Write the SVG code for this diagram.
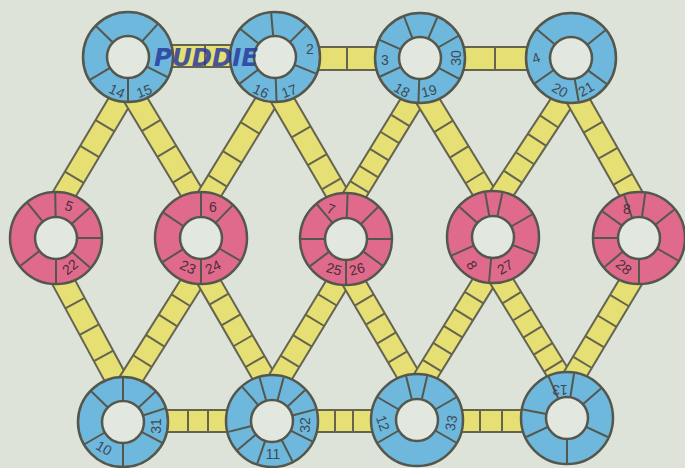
<svg xmlns="http://www.w3.org/2000/svg" xmlns:xlink="http://www.w3.org/1999/xlink" width="685" height="468" viewBox="0 0 685 468">
<style>
.bg{fill:#dde3d9}
.strip{fill:#e6df74;stroke:#646450;stroke-width:2}
.bar{stroke:#646450;stroke-width:2;fill:none}
.blue{fill:#6db8dc;stroke:#55574c;stroke-width:2.5}
.pink{fill:#e06a8c;stroke:#55574c;stroke-width:2.5}
.hole{fill:#e2e7df;stroke:#55574c;stroke-width:2.5}
.sp{stroke:#55574c;stroke-width:2}
.lb{font-family:"Liberation Sans",Arial,sans-serif;font-size:14px;fill:#3f4a55;text-anchor:middle;dominant-baseline:central}
.lbp{fill:#4a3038}
.ink{font-family:"DejaVu Sans",sans-serif;font-style:italic;font-weight:bold;font-size:24px;fill:#2c3c9c;opacity:0.85}
</style>
<defs>
<line id="s" class="sp" x1="21" y1="0" x2="45" y2="0"/>
</defs>
<rect class="bg" x="0" y="0" width="685" height="468"/>

<g id="connectors">
<!-- horizontal top -->
<g><rect class="strip" x="128" y="45" width="147" height="22"/><path class="bar" d="M205 45V67"/></g>
<g><rect class="strip" x="275" y="47" width="145" height="23"/><path class="bar" d="M347 47V70"/></g>
<g><rect class="strip" x="420" y="47" width="151" height="23"/><path class="bar" d="M495 47V70"/></g>
<!-- horizontal bottom -->
<g><rect class="strip" x="123" y="410" width="149" height="22"/><path class="bar" d="M188 410V432M208 410V432"/></g>
<g><rect class="strip" x="272" y="410" width="145" height="22"/><path class="bar" d="M335 410V432M353 410V432"/></g>
<g><rect class="strip" x="417" y="410" width="150" height="22"/><path class="bar" d="M480 410V432M502 410V432"/></g>
<!-- diagonals top to middle -->
<g transform="translate(128 87) rotate(120.76)"><rect class="strip" x="0" y="-11" width="141" height="22"/><path class="bar" d="M45 -11V11M75 -11V11M105 -11V11"/></g>
<g transform="translate(128 87) rotate(58.9)"><rect class="strip" x="0" y="-11" width="141" height="22"/><path class="bar" d="M45 -11V11M75 -11V11M105 -11V11"/></g>
<g transform="translate(275 87) rotate(121.45)"><rect class="strip" x="0" y="-11" width="142" height="22"/><path class="bar" d="M48 -11V11M82 -11V11M110 -11V11"/></g>
<g transform="translate(275 87) rotate(59.8)"><rect class="strip" x="0" y="-11" width="141" height="22"/><path class="bar" d="M52 -11V11M84 -11V11M112 -11V11"/></g>
<g transform="translate(420 88) rotate(121.45)"><rect class="strip" x="0" y="-11" width="142" height="22"/><path class="bar" d="M38 -11V11M58 -11V11M78 -11V11M98 -11V11M116 -11V11"/></g>
<g transform="translate(420 88) rotate(58.47)"><rect class="strip" x="0" y="-11" width="140" height="22"/><path class="bar" d="M45 -11V11M75 -11V11M105 -11V11"/></g>
<g transform="translate(571 88) rotate(123.24)"><rect class="strip" x="0" y="-11" width="142" height="22"/><path class="bar" d="M40 -11V11M62 -11V11M84 -11V11M106 -11V11"/></g>
<g transform="translate(571 88) rotate(60.46)"><rect class="strip" x="0" y="-11" width="138" height="22"/><path class="bar" d="M45 -11V11M75 -11V11M105 -11V11"/></g>
<!-- diagonals middle to bottom -->
<g transform="translate(56 268) rotate(61.6)"><rect class="strip" x="0" y="-11" width="141" height="22"/><path class="bar" d="M40 -11V11M70 -11V11M100 -11V11"/></g>
<g transform="translate(201 268) rotate(122.17)"><rect class="strip" x="0" y="-11" width="146" height="22"/><path class="bar" d="M38 -11V11M62 -11V11M86 -11V11M110 -11V11"/></g>
<g transform="translate(201 268) rotate(60)"><rect class="strip" x="0" y="-11" width="142" height="22"/><path class="bar" d="M36 -11V11M60 -11V11M84 -11V11M108 -11V11"/></g>
<g transform="translate(346 269) rotate(121.24)"><rect class="strip" x="0" y="-11" width="143" height="22"/><path class="bar" d="M36 -11V11M60 -11V11M84 -11V11M108 -11V11"/></g>
<g transform="translate(346 269) rotate(59.6)"><rect class="strip" x="0" y="-11" width="140" height="22"/><path class="bar" d="M36 -11V11M58 -11V11M80 -11V11M102 -11V11"/></g>
<g transform="translate(493 267) rotate(121.7)"><rect class="strip" x="0" y="-11" width="145" height="22"/><path class="bar" d="M36 -11V11M56 -11V11M76 -11V11M96 -11V11M116 -11V11"/></g>
<g transform="translate(493 267) rotate(58.55)"><rect class="strip" x="0" y="-11" width="142" height="22"/><path class="bar" d="M36 -11V11M56 -11V11M76 -11V11M96 -11V11M116 -11V11"/></g>
<g transform="translate(639 268) rotate(120.96)"><rect class="strip" x="0" y="-11" width="140" height="22"/><path class="bar" d="M38 -11V11M62 -11V11M86 -11V11M110 -11V11"/></g>
</g>

<g id="n1" transform="translate(128 57)">
<circle class="blue" r="45"/><circle class="hole" r="21"/>
<use xlink:href="#s" transform="rotate(-136)"/><use xlink:href="#s" transform="rotate(-48)"/><use xlink:href="#s" transform="rotate(27)"/><use xlink:href="#s" transform="rotate(90)"/><use xlink:href="#s" transform="rotate(149)"/>
<text class="lb" transform="translate(-11 34) rotate(25)">14</text><text class="lb" transform="translate(16 34) rotate(-20)">15</text>
</g>
<g id="n2" transform="translate(275 57)">
<circle class="blue" r="45"/><circle class="hole" r="21"/>
<use xlink:href="#s" transform="rotate(-141)"/><use xlink:href="#s" transform="rotate(-95)"/><use xlink:href="#s" transform="rotate(-45)"/><use xlink:href="#s" transform="rotate(22)"/><use xlink:href="#s" transform="rotate(88)"/><use xlink:href="#s" transform="rotate(143)"/>
<text class="lb" transform="translate(-14 34) rotate(25)">16</text><text class="lb" transform="translate(14 34) rotate(-20)">17</text><text class="lb" transform="translate(35 -8)">2</text>
</g>
<g id="n3" transform="translate(420 58)">
<circle class="blue" r="45"/><circle class="hole" r="21"/>
<use xlink:href="#s" transform="rotate(-156)"/><use xlink:href="#s" transform="rotate(-111)"/><use xlink:href="#s" transform="rotate(-67)"/><use xlink:href="#s" transform="rotate(-30)"/><use xlink:href="#s" transform="rotate(28)"/><use xlink:href="#s" transform="rotate(92)"/><use xlink:href="#s" transform="rotate(155)"/>
<text class="lb" transform="translate(-35 2)">3</text><text class="lb" transform="translate(36 0) rotate(-90)">30</text><text class="lb" transform="translate(-18 32) rotate(30)">18</text><text class="lb" transform="translate(9 33) rotate(-15)">19</text>
</g>
<g id="n4" transform="translate(571 58)">
<circle class="blue" r="45"/><circle class="hole" r="21"/>
<use xlink:href="#s" transform="rotate(-140)"/><use xlink:href="#s" transform="rotate(-39)"/><use xlink:href="#s" transform="rotate(36)"/><use xlink:href="#s" transform="rotate(80)"/><use xlink:href="#s" transform="rotate(145)"/>
<text class="lb" transform="translate(-35 0) rotate(-20)">4</text><text class="lb" transform="translate(-11 32) rotate(30)">20</text><text class="lb" transform="translate(15 31) rotate(-30)">21</text>
</g>

<g id="n5" transform="translate(56 238)">
<circle class="pink" r="46"/><circle class="hole" r="21"/>
<use xlink:href="#s" transform="rotate(-129)"/><use xlink:href="#s" transform="rotate(-91)"/><use xlink:href="#s" transform="rotate(-42)"/><use xlink:href="#s" transform="rotate(0)"/><use xlink:href="#s" transform="rotate(41)"/><use xlink:href="#s" transform="rotate(90)"/><use xlink:href="#s" transform="rotate(142)"/>
<text class="lb lbp" transform="translate(13 -32) rotate(20)">5</text><text class="lb lbp" transform="translate(14 29) rotate(-40)">22</text>
</g>
<g id="n6" transform="translate(201 238)">
<circle class="pink" r="46"/><circle class="hole" r="21"/>
<use xlink:href="#s" transform="rotate(-146)"/><use xlink:href="#s" transform="rotate(-90)"/><use xlink:href="#s" transform="rotate(-46)"/><use xlink:href="#s" transform="rotate(30)"/><use xlink:href="#s" transform="rotate(90)"/><use xlink:href="#s" transform="rotate(148)"/>
<text class="lb lbp" transform="translate(12 -31)">6</text><text class="lb lbp" transform="translate(-13 29) rotate(25)">23</text><text class="lb lbp" transform="translate(12 29) rotate(-25)">24</text>
</g>
<g id="n7" transform="translate(346 239)">
<circle class="pink" r="46"/><circle class="hole" r="21"/>
<use xlink:href="#s" transform="rotate(-130)"/><use xlink:href="#s" transform="rotate(-88)"/><use xlink:href="#s" transform="rotate(-45)"/><use xlink:href="#s" transform="rotate(0)"/><use xlink:href="#s" transform="rotate(36)"/><use xlink:href="#s" transform="rotate(90)"/><use xlink:href="#s" transform="rotate(143)"/><use xlink:href="#s" transform="rotate(180)"/>
<text class="lb lbp" transform="translate(-15 -30) rotate(20)">7</text><text class="lb lbp" transform="translate(-12 30) rotate(15)">25</text><text class="lb lbp" transform="translate(11 30) rotate(-15)">26</text>
</g>
<g id="n8" transform="translate(493 237)">
<circle class="pink" r="46"/><circle class="hole" r="21"/>
<use xlink:href="#s" transform="rotate(-138)"/><use xlink:href="#s" transform="rotate(-100)"/><use xlink:href="#s" transform="rotate(-78)"/><use xlink:href="#s" transform="rotate(-30)"/><use xlink:href="#s" transform="rotate(22)"/><use xlink:href="#s" transform="rotate(95)"/><use xlink:href="#s" transform="rotate(156)"/>
<text class="lb lbp" transform="translate(-21 28) rotate(60)">8</text><text class="lb lbp" transform="translate(12 30) rotate(-30)">27</text>
</g>
<g id="n9" transform="translate(639 238)">
<circle class="pink" r="46"/><circle class="hole" r="21"/>
<use xlink:href="#s" transform="rotate(-144)"/><use xlink:href="#s" transform="rotate(-109)"/><use xlink:href="#s" transform="rotate(-82)"/><use xlink:href="#s" transform="rotate(-39)"/><use xlink:href="#s" transform="rotate(30)"/><use xlink:href="#s" transform="rotate(90)"/><use xlink:href="#s" transform="rotate(140)"/><use xlink:href="#s" transform="rotate(180)"/>
<text class="lb lbp" transform="translate(-12 -29)">8</text><text class="lb lbp" transform="translate(-15 29) rotate(40)">28</text>
</g>

<g id="n10" transform="translate(123 422)">
<circle class="blue" r="45"/><circle class="hole" r="21"/>
<use xlink:href="#s" transform="rotate(-136)"/><use xlink:href="#s" transform="rotate(-90)"/><use xlink:href="#s" transform="rotate(-43)"/><use xlink:href="#s" transform="rotate(-18)"/><use xlink:href="#s" transform="rotate(28)"/><use xlink:href="#s" transform="rotate(90)"/><use xlink:href="#s" transform="rotate(150)"/>
<text class="lb" transform="translate(-19 26) rotate(30)">10</text><text class="lb" transform="translate(33 4) rotate(-90)">31</text>
</g>
<g id="n11" transform="translate(272 421)">
<circle class="blue" r="46"/><circle class="hole" r="21"/>
<use xlink:href="#s" transform="rotate(-131)"/><use xlink:href="#s" transform="rotate(-106)"/><use xlink:href="#s" transform="rotate(-75)"/><use xlink:href="#s" transform="rotate(-43)"/><use xlink:href="#s" transform="rotate(-15)"/><use xlink:href="#s" transform="rotate(27)"/><use xlink:href="#s" transform="rotate(63)"/><use xlink:href="#s" transform="rotate(109)"/><use xlink:href="#s" transform="rotate(140)"/><use xlink:href="#s" transform="rotate(166)"/>
<text class="lb" transform="translate(1 33)">11</text><text class="lb" transform="translate(33 4) rotate(-90)">32</text>
</g>
<g id="n12" transform="translate(417 420)">
<circle class="blue" r="46"/><circle class="hole" r="21"/>
<use xlink:href="#s" transform="rotate(-150)"/><use xlink:href="#s" transform="rotate(-104)"/><use xlink:href="#s" transform="rotate(-77)"/><use xlink:href="#s" transform="rotate(-30)"/><use xlink:href="#s" transform="rotate(30)"/><use xlink:href="#s" transform="rotate(150)"/>
<text class="lb" transform="translate(-34 3) rotate(70)">12</text><text class="lb" transform="translate(34 3) rotate(-80)">33</text>
</g>
<g id="n13" transform="translate(567 418)">
<circle class="blue" r="46"/><circle class="hole" r="21"/>
<use xlink:href="#s" transform="rotate(-169)"/><use xlink:href="#s" transform="rotate(-114)"/><use xlink:href="#s" transform="rotate(-81)"/><use xlink:href="#s" transform="rotate(-41)"/><use xlink:href="#s" transform="rotate(25)"/><use xlink:href="#s" transform="rotate(90)"/><use xlink:href="#s" transform="rotate(155)"/>
<text class="lb" transform="translate(-7 -28) rotate(180)">13</text>
</g>

<text class="ink" x="154" y="66" textLength="104" lengthAdjust="spacingAndGlyphs">PUDDIE</text>
</svg>
